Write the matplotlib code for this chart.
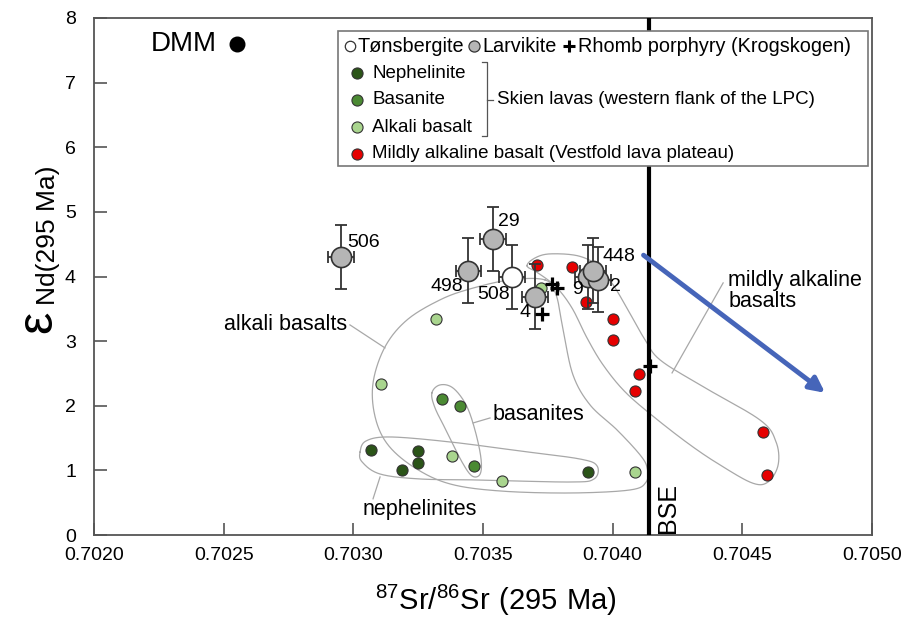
import numpy as np
import matplotlib.pyplot as plt
from matplotlib.patches import Rectangle

plt.rcParams['font.family'] = ['Liberation Sans', 'DejaVu Sans']
plt.rcParams['mathtext.fontset'] = 'custom'
plt.rcParams['mathtext.rm'] = 'Liberation Sans'

# ---- data (87Sr/86Sr, eNd at 295 Ma) ----
dmm_sr, dmm_nd = [0.70255], [7.59]
bse_sr = 0.70414

lar_id = ['506', '29', '498', '4', '9', '2', '448']
lar_sr = [0.702953, 0.703540, 0.703444, 0.703702, 0.703906, 0.703945, 0.703923]
lar_nd = [4.30, 4.58, 4.09, 3.69, 3.99, 3.95, 4.09]
lar_sr_err = 0.00005
lar_nd_err = 0.5

tons_id = ['508']
tons_sr = [0.703611]
tons_nd = [3.99]

rp_sr = [0.703767, 0.703784, 0.703729, 0.704144]
rp_nd = [3.89, 3.82, 3.42, 2.61]

neph_sr = [0.703067, 0.703187, 0.703251, 0.703251, 0.703906]
neph_nd = [1.32, 1.01, 1.30, 1.11, 0.97]

bas_sr = [0.703341, 0.703411, 0.703465]
bas_nd = [2.11, 2.00, 1.06]

alk_sr = [0.703318, 0.703108, 0.703723, 0.703379, 0.703572, 0.704086]
alk_nd = [3.35, 2.34, 3.82, 1.22, 0.83, 0.98]

mab_sr = [0.703708, 0.703842, 0.703896, 0.704003, 0.704003, 0.704103,
          0.704086, 0.704581, 0.704597]
mab_nd = [4.18, 4.14, 3.61, 3.34, 3.01, 2.49, 2.23, 1.60, 0.93]

# hand-drawn field outlines
alk_field_sr = [0.703739, 0.703604, 0.703450, 0.703334, 0.703207, 0.703122,
                0.703076, 0.703084, 0.703134, 0.703238, 0.703373, 0.703566,
                0.703836, 0.704067, 0.704129, 0.704133, 0.704106, 0.704017,
                0.703913, 0.703847, 0.703809, 0.703782]
alk_field_nd = [3.947, 3.947, 3.808, 3.638, 3.328, 2.910, 2.353, 1.827,
                1.393, 1.037, 0.790, 0.681, 0.650, 0.697, 0.820, 1.037,
                1.238, 1.625, 2.012, 2.477, 3.173, 3.715]

mab_field_sr = [0.703670, 0.703701, 0.703759, 0.703867, 0.703944, 0.704002,
                0.704059, 0.704125, 0.704183, 0.704337, 0.704568, 0.704630,
                0.704638, 0.704599, 0.704538, 0.704414, 0.704299, 0.704164,
                0.704048, 0.703963, 0.703901, 0.703843, 0.703782, 0.703712]
mab_field_nd = [4.164, 4.288, 4.350, 4.319, 4.164, 3.870, 3.483, 3.019,
                2.709, 2.322, 1.780, 1.440, 1.084, 0.820, 0.805, 1.084,
                1.393, 1.811, 2.214, 2.632, 3.050, 3.514, 3.839, 4.056]

bas_field_sr = [0.703303, 0.703334, 0.703384, 0.703435, 0.703469, 0.703492,
                0.703489, 0.703458, 0.703419, 0.703361, 0.703315]
bas_field_nd = [2.198, 2.322, 2.276, 2.012, 1.625, 1.192, 0.944, 0.913,
                1.130, 1.594, 1.966]

neph_field_sr = [0.703026, 0.703049, 0.703142, 0.703373, 0.703643, 0.703874,
                 0.703940, 0.703928, 0.703836, 0.703489, 0.703257, 0.703103,
                 0.703034]
neph_field_nd = [1.285, 1.455, 1.517, 1.440, 1.300, 1.176, 1.068, 0.867,
                 0.820, 0.851, 0.867, 0.944, 1.130]

arrow_sr = [0.704119, 0.704819]
arrow_nd = [4.33, 2.20]

xticks = [0.7020, 0.7025, 0.7030, 0.7035, 0.7040, 0.7045, 0.7050]
xtick_labels = ['0.7020', '0.7025', '0.7030', '0.7035', '0.7040', '0.7045', '0.7050']
yticks = [0, 1, 2, 3, 4, 5, 6, 7, 8]


def closed_curve(xs, ys, n=24):
    # smooth closed outline through the hand-picked vertices
    p = np.column_stack([xs, ys])
    out = []
    m = len(p)
    t = np.linspace(0, 1, n, endpoint=False)[:, None]
    for i in range(m):
        p0, p1, p2, p3 = p[i - 1], p[i], p[(i + 1) % m], p[(i + 2) % m]
        out.append(0.5 * (2 * p1 + (-p0 + p2) * t
                          + (2 * p0 - 5 * p1 + 4 * p2 - p3) * t ** 2
                          + (-p0 + 3 * p1 - 3 * p2 + p3) * t ** 3))
    out = np.vstack(out + [out[0][:1]])
    return out[:, 0], out[:, 1]


fig = plt.figure(figsize=(9.11, 6.18), dpi=100)
ax = fig.add_axes([94 / 911, 83 / 618, 778 / 911, 517 / 618])

field_kw = dict(color='#a8a8a8', lw=0.9, zorder=1)
for fx, fy in [(alk_field_sr, alk_field_nd), (mab_field_sr, mab_field_nd),
               (bas_field_sr, bas_field_nd), (neph_field_sr, neph_field_nd)]:
    cx, cy = closed_curve(fx, fy)
    ax.plot(cx, cy, **field_kw)

# leader lines and field labels
ax.plot([0.702987, 0.703122], [3.251, 2.895], **field_kw)
ax.text(0.702976, 3.25, 'alkali basalts', fontsize=15.5, ha='right', va='center')
ax.plot([0.703462, 0.703527], [1.734, 1.811], **field_kw)
ax.text(0.703535, 1.86, 'basanites', fontsize=15.5, ha='left', va='center')
ax.plot([0.703103, 0.703076], [0.898, 0.560], **field_kw)
ax.text(0.703257, 0.40, 'nephelinites', fontsize=15.5, ha='center', va='center')
ax.plot([0.704229, 0.704426], [2.508, 3.901], **field_kw)
ax.text(0.704445, 3.78, 'mildly alkaline\nbasalts', fontsize=15.5, ha='left',
        va='center', linespacing=1.0)

# BSE
ax.axvline(bse_sr, color='black', lw=3, zorder=3)
ax.text(0.704214, 0.42, 'BSE', rotation=90, fontsize=18, ha='center', va='center')

# DMM
ax.plot(dmm_sr, dmm_nd, 'o', color='black', ms=10.5, zorder=6)
ax.text(0.702474, 7.59, 'DMM', fontsize=20, ha='right', va='center')

# arrow
ax.annotate('', xy=(arrow_sr[1], arrow_nd[1]), xytext=(arrow_sr[0], arrow_nd[0]),
            arrowprops=dict(arrowstyle='-|>,head_length=0.9,head_width=0.45',
                            color='#4665b9', lw=3.5, shrinkA=0, shrinkB=0),
            zorder=4)

small = dict(ls='none', marker='o', ms=8, mec='#333333', mew=0.8, zorder=5)
ax.plot(neph_sr, neph_nd, mfc='#2b5418', **small)
ax.plot(bas_sr, bas_nd, mfc='#4b8a33', **small)
ax.plot(alk_sr, alk_nd, mfc='#a9d58e', **small)
ax.plot(mab_sr, mab_nd, mfc='#e60000', **small)

eb = dict(fmt='none', ecolor='#333333', elinewidth=1.3, capsize=4.5,
          capthick=1.3, zorder=6)
ax.errorbar(tons_sr, tons_nd, xerr=lar_sr_err, yerr=lar_nd_err, **eb)
ax.errorbar(lar_sr, lar_nd, xerr=lar_sr_err, yerr=lar_nd_err, **eb)
big = dict(ls='none', marker='o', ms=14.5, mec='#333333', mew=1.2, zorder=7)
ax.plot(tons_sr, tons_nd, mfc='white', **big)
ax.plot(lar_sr, lar_nd, mfc='#b5b5b5', **big)

ax.plot(rp_sr, rp_nd, ls='none', marker='+', ms=10, mew=2.3, color='black', zorder=8)

# sample numbers
lab_off = {'506': (4.3, 10.8, 'left'), '29': (3.4, 12.5, 'left'),
           '498': (-3.8, -11.7, 'right'), '508': (-1.2, -12.7, 'right'),
           '4': (-3.8, -11.7, 'right'), '9': (-3.8, -9.1, 'right'),
           '2': (8.4, -5.0, 'left'), '448': (6.7, 9.9, 'left')}
for name, sx, sy in zip(lar_id + tons_id, lar_sr + tons_sr, lar_nd + tons_nd):
    dx, dy, ha = lab_off[name]
    ax.annotate(name, (sx, sy), xytext=(dx, dy), textcoords='offset points',
                fontsize=14, ha=ha, va='center', zorder=9)

# axes
ax.set_xlim(0.702, 0.705)
ax.set_ylim(0, 8)
ax.set_xticks(xticks)
ax.set_xticklabels(xtick_labels)
ax.set_yticks(yticks)
for s in ax.spines.values():
    s.set_color('#555555')
    s.set_linewidth(1.3)
ax.tick_params(direction='in', length=9, width=1.2, color='#555555', labelsize=14)
ax.tick_params(axis='x', pad=9)
ax.tick_params(axis='y', pad=13)

fig.text(496 / 911, 1 - 600 / 618, r'$\mathregular{^{87}Sr/^{86}Sr\ (295\ Ma)}$',
         fontsize=21, ha='center', va='center')
fig.text(38 / 911, 1 - 322 / 618, 'ε', rotation=90, fontsize=36, ha='center', va='center')
fig.text(48 / 911, 1 - 235 / 618, 'Nd(295 Ma)', rotation=90, fontsize=19,
         ha='center', va='center')


# legend box, drawn by hand in pixel-ish axes positions
def apos(px, py):
    return (px - 94) / 778, (535 - py) / 517


x0, y1 = apos(338, 31)
x1, y0 = apos(868, 166)
ax.add_patch(Rectangle((x0, y0), x1 - x0, y1 - y0, transform=ax.transAxes,
                       facecolor='white', edgecolor='#777777', lw=1.2, zorder=10))
lt = dict(transform=ax.transAxes, fontsize=13.5, va='center', ha='left', zorder=11)
lt1 = dict(lt, fontsize=14.3)
lm = dict(transform=ax.transAxes, ls='none', zorder=11, clip_on=False)

ax.plot(*apos(350, 46), marker='o', ms=7.5, mfc='white', mec='#333333', mew=0.9, **lm)
ax.text(*apos(357, 46), 'Tønsbergite', **lt1)
ax.plot(*apos(474, 46), marker='o', ms=8, mfc='#b5b5b5', mec='#333333', mew=0.9, **lm)
ax.text(*apos(482, 46), 'Larvikite', **lt1)
ax.plot(*apos(569, 46), marker='+', ms=9, mew=2.2, color='black', **lm)
ax.text(*apos(578, 46), 'Rhomb porphyry (Krogskogen)', **lt1)

rows = [('Nephelinite', '#2b5418', 73), ('Basanite', '#4b8a33', 100),
        ('Alkali basalt', '#a9d58e', 127),
        ('Mildly alkaline basalt (Vestfold lava plateau)', '#e60000', 154)]
for name, col, py in rows:
    ax.plot(*apos(357, py), marker='o', ms=8, mfc=col, mec='#333333', mew=0.8, **lm)
    ax.text(*apos(372, py), name, **lt)

bx = [apos(482, 62)[0], apos(487, 62)[0], apos(487, 136)[0], apos(482, 136)[0]]
by = [apos(482, 62)[1], apos(487, 62)[1], apos(487, 136)[1], apos(482, 136)[1]]
ax.plot(bx, by, transform=ax.transAxes, color='#555555', lw=0.9, zorder=11)
ax.plot([apos(487, 100)[0], apos(493, 100)[0]], [apos(487, 100)[1]] * 2,
        transform=ax.transAxes, color='#555555', lw=0.9, zorder=11)
ax.text(*apos(497, 100), 'Skien lavas (western flank of the LPC)', **lt)

fig.savefig('out.png', dpi=100)
